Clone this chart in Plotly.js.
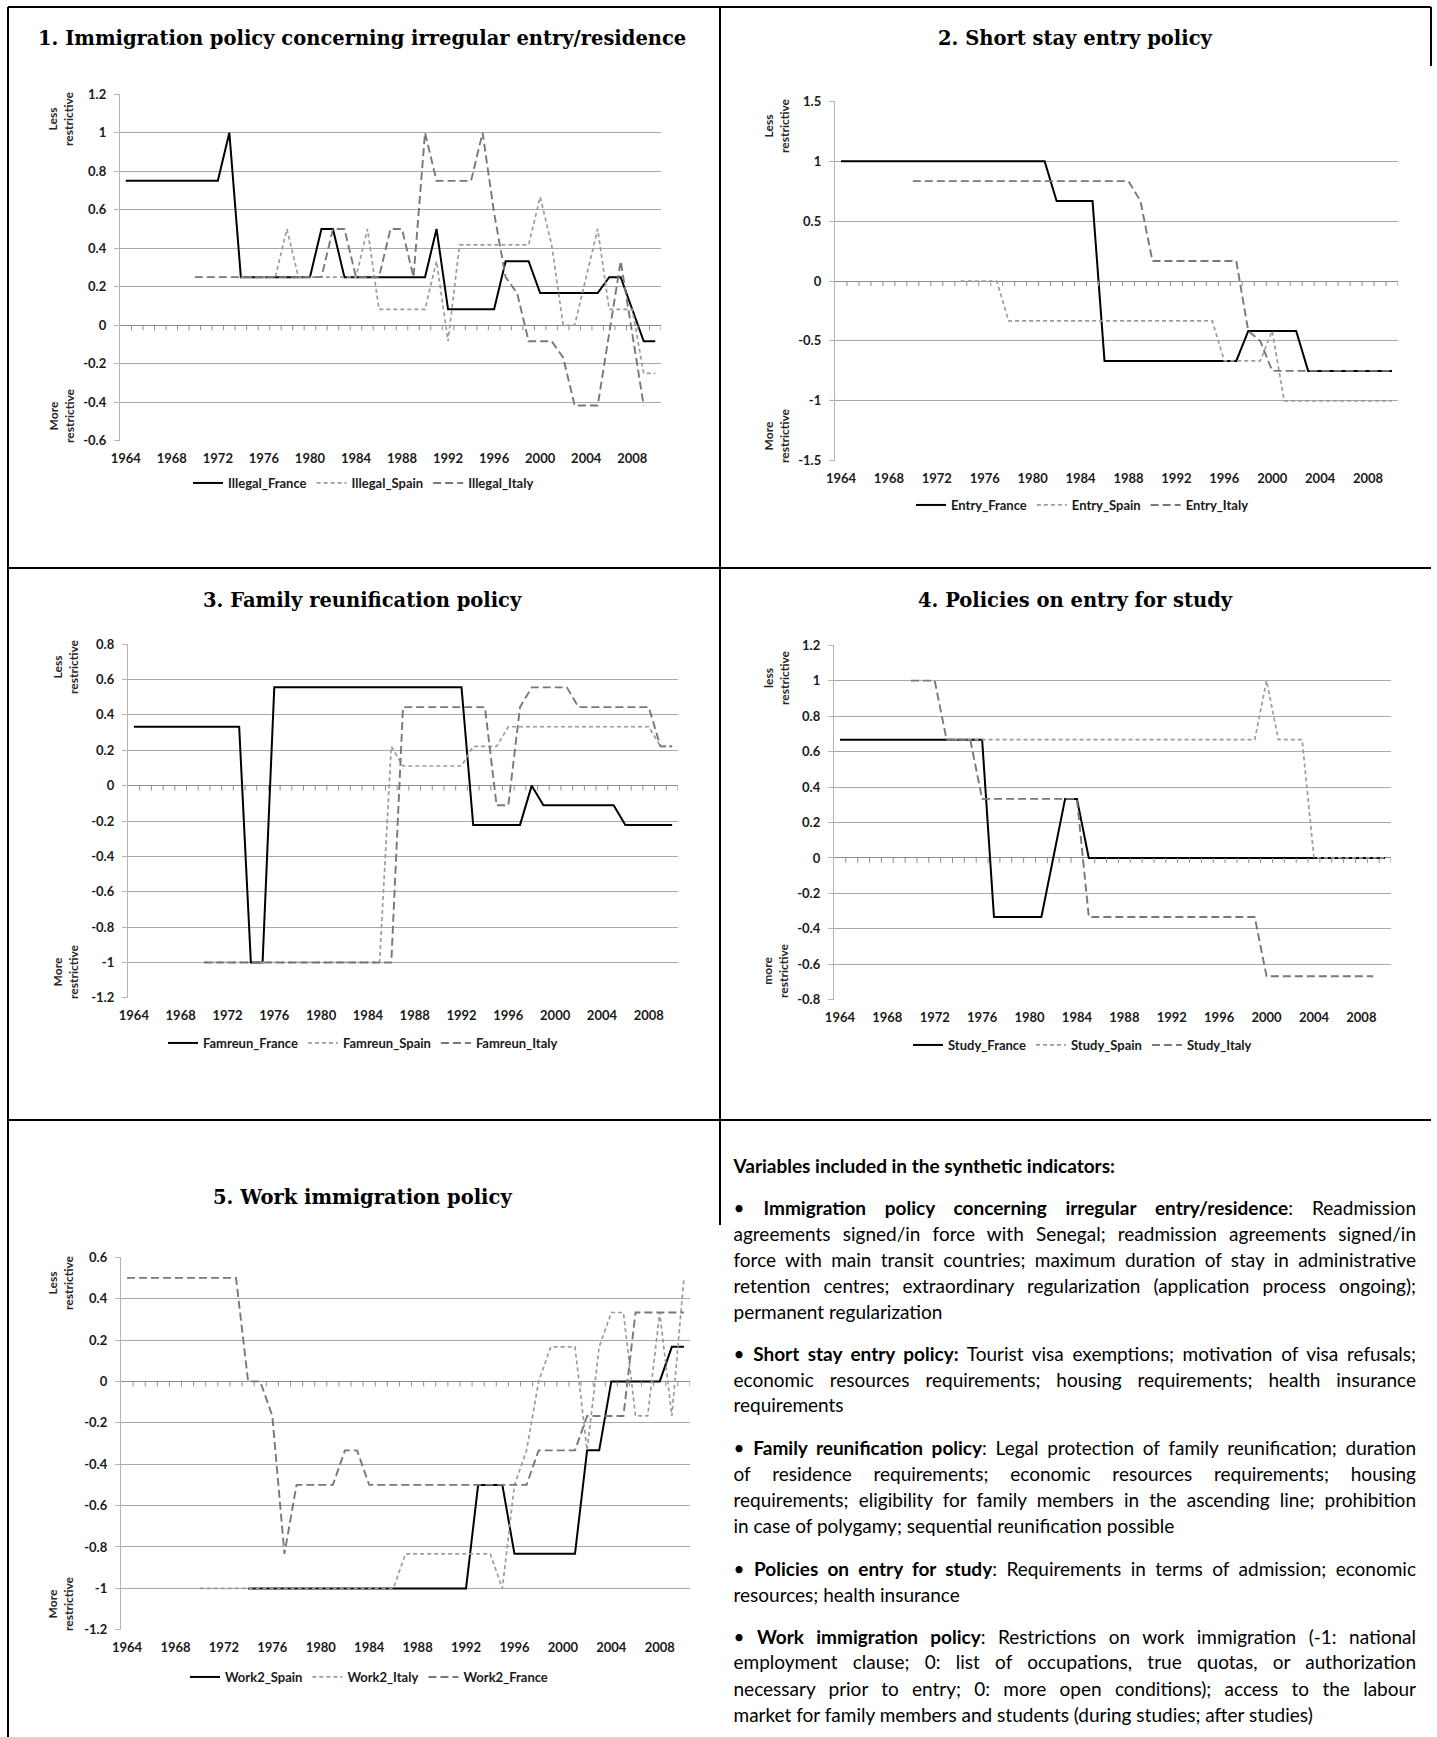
<!DOCTYPE html>
<html>
<head>
<meta charset="utf-8">
<script src="https://cdn.plot.ly/plotly-3.0.1.min.js"></script>
<style>
  body { margin: 0; background: #fff; }
  #chart { position: absolute; left: 0; top: 0; width: 1437px; height: 1737px; }
  .nl { position: absolute; left: 733.5px; width: 682.5px; height: 24px; line-height: 24px;
        font-family: Lato, sans-serif; font-size: 19px; color: #000; white-space: nowrap; }
  .nl.j { text-align: justify; text-align-last: justify; }
  .nl b { font-weight: 700; }
</style>
</head>
<body>
<div id="chart"></div>
<div id="notes"></div>
<script>
// ---------------- DATA ----------------
const years = [1964,1965,1966,1967,1968,1969,1970,1971,1972,1973,1974,1975,1976,1977,1978,1979,1980,1981,1982,1983,1984,1985,1986,1987,1988,1989,1990,1991,1992,1993,1994,1995,1996,1997,1998,1999,2000,2001,2002,2003,2004,2005,2006,2007,2008,2009,2010];
const yearTicks = [1964,1968,1972,1976,1980,1984,1988,1992,1996,2000,2004,2008];
const yearTickText = ['1964','1968','1972','1976','1980','1984','1988','1992','1996','2000','2004','2008'];

// 1. Irregular entry / residence
const illegalFrance = [0.75,0.75,0.75,0.75,0.75,0.75,0.75,0.75,0.75,1,0.25,0.25,0.25,0.25,0.25,0.25,0.25,0.5,0.5,0.25,0.25,0.25,0.25,0.25,0.25,0.25,0.25,0.5,0.083,0.083,0.083,0.083,0.083,0.333,0.333,0.333,0.167,0.167,0.167,0.167,0.167,0.167,0.25,0.25,0.083,-0.083,-0.083];
const illegalSpain = [null,null,null,null,null,null,null,null,null,null,0.25,0.25,0.25,0.25,0.5,0.25,0.25,0.25,0.25,0.25,0.25,0.5,0.083,0.083,0.083,0.083,0.083,0.333,-0.083,0.417,0.417,0.417,0.417,0.417,0.417,0.417,0.667,0.417,0,0,0.25,0.5,0.083,0.083,0.083,-0.25,-0.25];
const illegalItaly = [null,null,null,null,null,null,0.25,0.25,0.25,0.25,0.25,0.25,0.25,0.25,0.25,0.25,0.25,0.25,0.5,0.5,0.25,0.25,0.25,0.5,0.5,0.25,1,0.75,0.75,0.75,0.75,1,0.583,0.25,0.167,-0.083,-0.083,-0.083,-0.167,-0.417,-0.417,-0.417,-0.042,0.333,-0.042,-0.417,null];
const illegalNames = ['Illegal_France','Illegal_Spain','Illegal_Italy'];
const illegalTicks = [-0.6,-0.4,-0.2,0,0.2,0.4,0.6,0.8,1,1.2];

// 2. Short stay entry
const entryFrance = [1,1,1,1,1,1,1,1,1,1,1,1,1,1,1,1,1,1,0.667,0.667,0.667,0.667,-0.667,-0.667,-0.667,-0.667,-0.667,-0.667,-0.667,-0.667,-0.667,-0.667,-0.667,-0.667,-0.417,-0.417,-0.417,-0.417,-0.417,-0.75,-0.75,-0.75,-0.75,-0.75,-0.75,-0.75,-0.75];
const entrySpain = [null,null,null,null,null,null,null,null,null,null,0,0,0,0,-0.333,-0.333,-0.333,-0.333,-0.333,-0.333,-0.333,-0.333,-0.333,-0.333,-0.333,-0.333,-0.333,-0.333,-0.333,-0.333,-0.333,-0.333,-0.667,-0.667,-0.667,-0.667,-0.417,-1,-1,-1,-1,-1,-1,-1,-1,-1,-1];
const entryItaly = [null,null,null,null,null,null,0.833,0.833,0.833,0.833,0.833,0.833,0.833,0.833,0.833,0.833,0.833,0.833,0.833,0.833,0.833,0.833,0.833,0.833,0.833,0.667,0.167,0.167,0.167,0.167,0.167,0.167,0.167,0.167,-0.417,-0.5,-0.75,-0.75,-0.75,-0.75,-0.75,-0.75,-0.75,-0.75,-0.75,-0.75,-0.75];
const entryNames = ['Entry_France','Entry_Spain','Entry_Italy'];
const entryTicks = [-1.5,-1,-0.5,0,0.5,1,1.5];

// 3. Family reunification
const famFrance = [0.333,0.333,0.333,0.333,0.333,0.333,0.333,0.333,0.333,0.333,-1,-1,0.556,0.556,0.556,0.556,0.556,0.556,0.556,0.556,0.556,0.556,0.556,0.556,0.556,0.556,0.556,0.556,0.556,-0.222,-0.222,-0.222,-0.222,-0.222,0,-0.111,-0.111,-0.111,-0.111,-0.111,-0.111,-0.111,-0.222,-0.222,-0.222,-0.222,-0.222];
const famSpain = [null,null,null,null,null,null,-1,-1,-1,-1,-1,-1,-1,-1,-1,-1,-1,-1,-1,-1,-1,-1,0.222,0.111,0.111,0.111,0.111,0.111,0.111,0.222,0.222,0.222,0.333,0.333,0.333,0.333,0.333,0.333,0.333,0.333,0.333,0.333,0.333,0.333,0.333,0.222,0.222];
const famItaly = [null,null,null,null,null,null,-1,-1,-1,-1,-1,-1,-1,-1,-1,-1,-1,-1,-1,-1,-1,-1,-1,0.444,0.444,0.444,0.444,0.444,0.444,0.444,0.444,-0.111,-0.111,0.444,0.556,0.556,0.556,0.556,0.444,0.444,0.444,0.444,0.444,0.444,0.444,0.222,0.222];
const famNames = ['Famreun_France','Famreun_Spain','Famreun_Italy'];
const famTicks = [-1.2,-1,-0.8,-0.6,-0.4,-0.2,0,0.2,0.4,0.6,0.8];

// 4. Entry for study
const studyFrance = [0.667,0.667,0.667,0.667,0.667,0.667,0.667,0.667,0.667,0.667,0.667,0.667,0.667,-0.333,-0.333,-0.333,-0.333,-0.333,0,0.333,0.333,0,0,0,0,0,0,0,0,0,0,0,0,0,0,0,0,0,0,0,0,0,0,0,0,0,0];
const studySpain = [null,null,null,null,null,null,null,null,null,0.667,0.667,0.667,0.667,0.667,0.667,0.667,0.667,0.667,0.667,0.667,0.667,0.667,0.667,0.667,0.667,0.667,0.667,0.667,0.667,0.667,0.667,0.667,0.667,0.667,0.667,0.667,1,0.667,0.667,0.667,0,0,0,0,0,0,0];
const studyItaly = [null,null,null,null,null,null,1,1,1,0.667,0.667,0.667,0.333,0.333,0.333,0.333,0.333,0.333,0.333,0.333,0.333,-0.333,-0.333,-0.333,-0.333,-0.333,-0.333,-0.333,-0.333,-0.333,-0.333,-0.333,-0.333,-0.333,-0.333,-0.333,-0.667,-0.667,-0.667,-0.667,-0.667,-0.667,-0.667,-0.667,-0.667,-0.667,null];
const studyNames = ['Study_France','Study_Spain','Study_Italy'];
const studyTicks = [-0.8,-0.6,-0.4,-0.2,0,0.2,0.4,0.6,0.8,1,1.2];

// 5. Work immigration
const workSpain = [null,null,null,null,null,null,null,null,null,null,-1,-1,-1,-1,-1,-1,-1,-1,-1,-1,-1,-1,-1,-1,-1,-1,-1,-1,-1,-0.5,-0.5,-0.5,-0.833,-0.833,-0.833,-0.833,-0.833,-0.833,-0.333,-0.333,0,0,0,0,0,0.167,0.167];
const workItaly = [null,null,null,null,null,null,-1,-1,-1,-1,-1,-1,-1,-1,-1,-1,-1,-1,-1,-1,-1,-1,-1,-0.833,-0.833,-0.833,-0.833,-0.833,-0.833,-0.833,-0.833,-1,-0.5,-0.333,0,0.167,0.167,0.167,-0.333,0.167,0.333,0.333,-0.167,-0.167,0.333,-0.167,0.5];
const workFrance = [0.5,0.5,0.5,0.5,0.5,0.5,0.5,0.5,0.5,0.5,0,0,-0.167,-0.833,-0.5,-0.5,-0.5,-0.5,-0.333,-0.333,-0.5,-0.5,-0.5,-0.5,-0.5,-0.5,-0.5,-0.5,-0.5,-0.5,-0.5,-0.5,-0.5,-0.5,-0.333,-0.333,-0.333,-0.333,-0.167,-0.167,-0.167,-0.167,0.333,0.333,0.333,0.333,0.333];
const workNames = ['Work2_Spain','Work2_Italy','Work2_France'];
const workTicks = [-1.2,-1,-0.8,-0.6,-0.4,-0.2,0,0.2,0.4,0.6];

const panelTitles = ['1. Immigration policy concerning irregular entry/residence','2. Short stay entry policy','3. Family reunification policy','4. Policies on entry for study','5. Work immigration policy'];
const lessLabels = ['Less<br>restrictive','Less<br>restrictive','Less<br>restrictive','less<br>restrictive','Less<br>restrictive'];
const moreLabels = ['More<br>restrictive','More<br>restrictive','More<br>restrictive','more<br>restrictive','More<br>restrictive'];

const noteHeader = 'Variables included in the synthetic indicators:';
const noteLines = [
  ['• ', 'Immigration policy concerning irregular entry/residence', ': Readmission'],
  ['', '', 'agreements signed/in force with Senegal; readmission agreements signed/in'],
  ['', '', 'force with main transit countries; maximum duration of stay in administrative'],
  ['', '', 'retention centres; extraordinary regularization (application process ongoing);'],
  ['', '', 'permanent regularization'],
  ['• ', 'Short stay entry policy:', ' Tourist visa exemptions; motivation of visa refusals;'],
  ['', '', 'economic resources requirements; housing requirements; health insurance'],
  ['', '', 'requirements'],
  ['• ', 'Family reunification policy', ': Legal protection of family reunification; duration'],
  ['', '', 'of residence requirements; economic resources requirements; housing'],
  ['', '', 'requirements; eligibility for family members in the ascending line; prohibition'],
  ['', '', 'in case of polygamy; sequential reunification possible'],
  ['• ', 'Policies on entry for study', ': Requirements in terms of admission; economic'],
  ['', '', 'resources; health insurance'],
  ['• ', 'Work immigration policy', ': Restrictions on work immigration (-1: national'],
  ['', '', 'employment clause; 0: list of occupations, true quotas, or authorization'],
  ['', '', 'necessary prior to entry; 0: more open conditions); access to the labour'],
  ['', '', 'market for family members and students (during studies; after studies)']
];

// ---------------- LAYOUT / STYLE ----------------
const W = 1437, H = 1737;
const px = v => v / W;
const py = v => 1 - v / H;

const styles = [
  {color: '#000000', width: 2, dash: 'solid'},
  {color: '#9c9c9c', width: 1.7, dash: '4px,3px'},
  {color: '#787878', width: 1.9, dash: '8px,4px'}
];

const panels = [
  {box: [120, 661, 94, 441], ticks: illegalTicks, series: [illegalFrance, illegalSpain, illegalItaly], names: illegalNames,
   title: [362, 38], legend: [188, 483], less: [61, 119], more: [61, 416]},
  {box: [835, 1398, 101, 461], ticks: entryTicks, series: [entryFrance, entrySpain, entryItaly], names: entryNames,
   title: [1075, 38], legend: [911, 505], less: [776, 126], more: [776, 436]},
  {box: [128, 678, 644, 998], ticks: famTicks, series: [famFrance, famSpain, famItaly], names: famNames,
   title: [362, 600], legend: [163, 1043], less: [65, 667], more: [65, 972]},
  {box: [834, 1391, 645, 1000], ticks: studyTicks, series: [studyFrance, studySpain, studyItaly], names: studyNames,
   title: [1075, 600], legend: [908, 1045], less: [776, 678], more: [776, 971]},
  {box: [121, 690, 1257, 1630], ticks: workTicks, series: [workSpain, workItaly, workFrance], names: workNames,
   title: [362, 1197], legend: [185, 1677], less: [60, 1283], more: [60, 1604]}
];

const tickFont = {family: 'Lato, sans-serif', size: 13, color: '#1a1a1a', weight: 700};
const legendFont = {family: 'Lato, sans-serif', size: 13, color: '#1a1a1a', weight: 700};
const sideFont = {family: 'Lato, sans-serif', size: 12, color: '#262626', weight: 700};
const titleFont = {family: 'DejaVu Serif, serif', size: 19.5, color: '#000', weight: 700};

const traces = [];
const layout = {
  width: W, height: H,
  margin: {l: 0, r: 0, t: 0, b: 0},
  paper_bgcolor: '#fff', plot_bgcolor: 'rgba(0,0,0,0)',
  showlegend: true,
  annotations: [], shapes: []
};

panels.forEach((p, i) => {
  const n = i + 1;
  const xid = n === 1 ? 'x' : 'x' + n;
  const yid = n === 1 ? 'y' : 'y' + n;
  const xkey = n === 1 ? 'xaxis' : 'xaxis' + n;
  const ykey = n === 1 ? 'yaxis' : 'yaxis' + n;
  const lkey = n === 1 ? 'legend' : 'legend' + n;
  const [x0, x1, yt, yb] = p.box;
  const tmin = p.ticks[0], tmax = p.ticks[p.ticks.length - 1];
  const eps = (tmax - tmin) * 0.0006;

  layout[xkey] = {
    domain: [px(x0), px(x1)], anchor: yid,
    range: [years[0] - 0.5, years[years.length - 1] + 0.5],
    tickmode: 'array', tickvals: yearTicks, ticktext: yearTickText,
    showgrid: false, zeroline: false, showline: false, ticks: '',
    tickfont: tickFont, ticklabelstandoff: 8, fixedrange: true
  };
  layout[ykey] = {
    domain: [py(yb), py(yt)], anchor: xid,
    range: [tmin - eps, tmax + eps],
    tickmode: 'array', tickvals: p.ticks, ticktext: p.ticks.map(v => String(v)),
    showgrid: true, gridcolor: '#a9a9a9', gridwidth: 1,
    zeroline: true, zerolinecolor: '#8e8e8e', zerolinewidth: 1,
    showline: true, linecolor: '#b4b4b4', linewidth: 1.2,
    ticks: 'outside', ticklen: 5, tickcolor: '#b4b4b4', tickwidth: 1,
    tickfont: tickFont, ticklabelstandoff: 5, fixedrange: true
  };
  layout[lkey] = {
    orientation: 'h', x: px(p.legend[0]), y: py(p.legend[1]),
    xanchor: 'left', yanchor: 'middle', xref: 'paper', yref: 'paper',
    font: legendFont, bgcolor: 'rgba(0,0,0,0)', borderwidth: 0,
    itemwidth: 30, traceorder: 'normal'
  };

  p.series.forEach((s, k) => {
    traces.push({
      type: 'scatter', mode: 'lines', x: years, y: s, name: p.names[k],
      xaxis: xid, yaxis: yid, legend: lkey, connectgaps: false,
      line: {color: styles[k].color, width: styles[k].width, dash: styles[k].dash},
      hoverinfo: 'skip'
    });
  });

  // minor category tick marks on the zero axis line
  years.forEach(yr => {
    layout.shapes.push({
      type: 'line', xref: xid, yref: yid, x0: yr + 0.5, x1: yr + 0.5,
      ysizemode: 'pixel', yanchor: 0, y0: 0, y1: -5,
      line: {color: '#8e8e8e', width: 1}, layer: 'above'
    });
  });

  layout.annotations.push({
    xref: 'paper', yref: 'paper', x: px(p.title[0]), y: py(p.title[1]),
    xanchor: 'center', yanchor: 'middle', showarrow: false,
    text: panelTitles[i], font: titleFont
  });
  layout.annotations.push({
    xref: 'paper', yref: 'paper', x: px(p.less[0]), y: py(p.less[1]),
    xanchor: 'center', yanchor: 'middle', showarrow: false, textangle: -90,
    text: lessLabels[i], font: sideFont, align: 'center'
  });
  layout.annotations.push({
    xref: 'paper', yref: 'paper', x: px(p.more[0]), y: py(p.more[1]),
    xanchor: 'center', yanchor: 'middle', showarrow: false, textangle: -90,
    text: moreLabels[i], font: sideFont, align: 'center'
  });
});

// frame lines
const frame = [
  [8, 7, 1431, 7], [8, 7, 8, 1737], [720, 7, 720, 1225],
  [8, 568, 1431, 568], [8, 1120, 1431, 1120], [1431, 7, 1431, 66]
];
frame.forEach(f => {
  layout.shapes.push({
    type: 'line', xref: 'paper', yref: 'paper',
    x0: px(f[0]), y0: py(f[1]), x1: px(f[2]), y1: py(f[3]),
    line: {color: '#000', width: 2}
  });
});

Plotly.newPlot('chart', traces, layout, {staticPlot: true, displayModeBar: false});

// ---------------- NOTES PANEL ----------------
const notes = document.getElementById('notes');
const lineY = [1208, 1233.5, 1259.5, 1286, 1311.5, 1354, 1379.5, 1405, 1448, 1473.5, 1500, 1525.5, 1569, 1594.5, 1636.5, 1662, 1688.5, 1715];
const lineJustify = [1,1,1,1,0, 1,1,0, 1,1,1,0, 1,0, 1,1,1,0];

const head = document.createElement('div');
head.className = 'nl';
head.style.top = (1166 - 12) + 'px';
const hb = document.createElement('b');
hb.textContent = noteHeader;
head.appendChild(hb);
notes.appendChild(head);

noteLines.forEach((ln, i) => {
  const d = document.createElement('div');
  d.className = 'nl' + (lineJustify[i] ? ' j' : '');
  d.style.top = (lineY[i] - 12) + 'px';
  if (ln[0]) d.appendChild(document.createTextNode(ln[0]));
  if (ln[1]) { const b = document.createElement('b'); b.textContent = ln[1]; d.appendChild(b); }
  d.appendChild(document.createTextNode(ln[2]));
  notes.appendChild(d);
});
</script>
</body>
</html>
